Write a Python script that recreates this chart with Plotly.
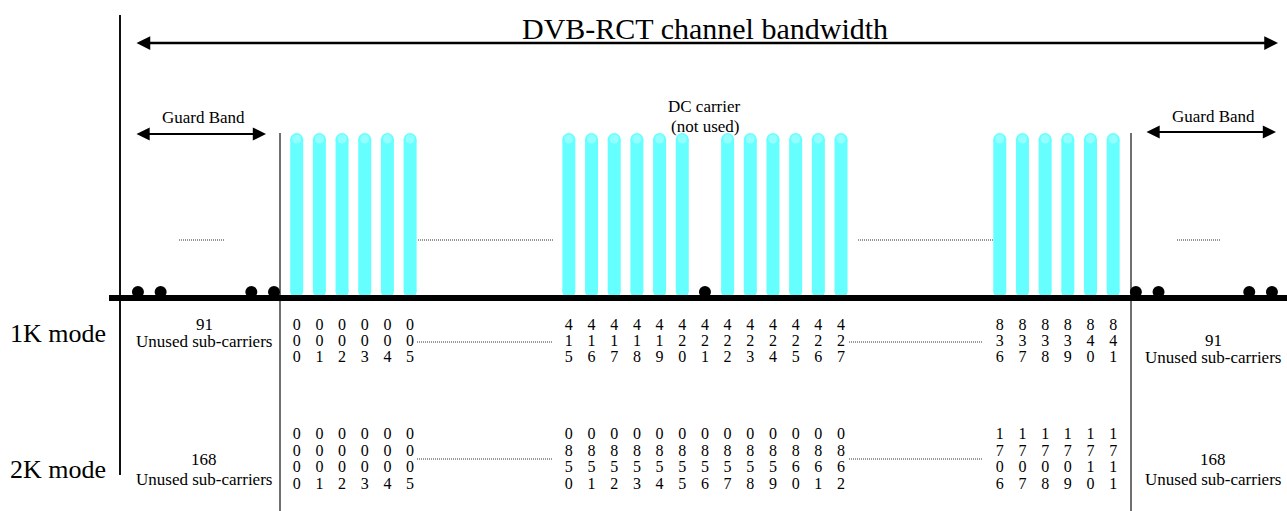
import plotly.graph_objects as go

# ---------------- data ----------------
carriers_1k_left = [0, 1, 2, 3, 4, 5]
carriers_1k_mid = [415, 416, 417, 418, 419, 420, 421, 422, 423, 424, 425, 426, 427]
carriers_1k_right = [836, 837, 838, 839, 840, 841]
carriers_2k_left = [0, 1, 2, 3, 4, 5]
carriers_2k_mid = [850, 851, 852, 853, 854, 855, 856, 857, 858, 859, 860, 861, 862]
carriers_2k_right = [1706, 1707, 1708, 1709, 1710, 1711]
unused_1k = 91
unused_2k = 168
dc_carrier_1k = 421
title_text = "DVB-RCT channel bandwidth"
guard_text = "Guard Band"
mode_labels = ["1K mode", "2K mode"]

# ---------------- layout (diagram slots) ----------------
W, H = 1287, 511
PX0, PITCH = 296.7, 22.68
def sx(px):
    return (px - PX0) / PITCH

SLOT_LEFT = [0, 1, 2, 3, 4, 5]
SLOT_MID = [12, 13, 14, 15, 16, 17, 18, 19, 20, 21, 22, 23, 24]
SLOT_RIGHT = [31, 32, 33, 34, 35, 36]
SLOT_GUARD_DOTS = [-7, -6, -2, -1, 37, 38, 42, 43]

FONT = "Liberation Serif, Times New Roman, serif"
CYAN = "#66FFFF"
HILITE = "#93FFFF"
SMALL = 17
DIGIT = 16

Y_BAR_TOP, Y_BAR_BOT = 133, 298
Y_BASE = 298
BAR_W = 13

fig = go.Figure()

def line(x, y, width, color="black", dash=None):
    fig.add_trace(go.Scatter(x=x, y=y, mode="lines",
                             line=dict(width=width, color=color, dash=dash),
                             hoverinfo="skip", showlegend=False))

# vertical separators
line([sx(120), sx(120)], [15, 475], 2, "#111")
line([sx(280), sx(280)], [133, 511], 1.3, "#222")
line([sx(1131), sx(1131)], [133, 511], 1.3, "#222")

# carrier bars
all_slots = SLOT_LEFT + SLOT_MID + SLOT_RIGHT
all_carriers = carriers_1k_left + carriers_1k_mid + carriers_1k_right
bar_slots = [s for s, c in zip(all_slots, all_carriers) if c != dc_carrier_1k]
dc_slot = [s for s, c in zip(all_slots, all_carriers) if c == dc_carrier_1k][0]

r = BAR_W / 2
bx, by = [], []
for s in bar_slots:
    bx += [s, s, None]
    by += [Y_BAR_TOP + r, Y_BAR_BOT - r, None]
fig.add_trace(go.Scatter(x=bx, y=by, mode="lines+markers",
                         line=dict(width=BAR_W, color=CYAN),
                         marker=dict(size=BAR_W, color=CYAN, line=dict(width=0)),
                         hoverinfo="skip", showlegend=False))
fig.add_trace(go.Scatter(x=bar_slots, y=[Y_BAR_TOP + 6] * len(bar_slots), mode="markers",
                         marker=dict(size=9, color=HILITE, line=dict(width=0)),
                         hoverinfo="skip", showlegend=False))

# baseline
line([sx(109), sx(W)], [Y_BASE, Y_BASE], 6, "black")

# unused / DC dots
fig.add_trace(go.Scatter(x=SLOT_GUARD_DOTS + [dc_slot], y=[292] * (len(SLOT_GUARD_DOTS) + 1),
                         mode="markers", marker=dict(size=12, color="black", line=dict(width=0)),
                         hoverinfo="skip", showlegend=False))

# dotted continuation lines
DOT = "1px,1px"
for a, b in [(179, 224), (418, 553), (858, 993), (1177, 1220)]:
    line([sx(a), sx(b)], [240, 240], 1, "#333", DOT)
for a, b in [(417, 553), (849, 983)]:
    line([sx(a), sx(b)], [342, 342], 1, "#333", DOT)
    line([sx(a), sx(b)], [459, 459], 1, "#333", DOT)

# carrier index digits
def digit_rows(slots, carriers, ndig, y0, dy, size=DIGIT):
    strs = [str(c).zfill(ndig) for c in carriers]
    for k in range(ndig):
        fig.add_trace(go.Scatter(x=slots, y=[y0 + k * dy] * len(slots), mode="text",
                                 text=[s[k] for s in strs], textposition="middle center",
                                 textfont=dict(family=FONT, size=size, color="black"),
                                 hoverinfo="skip", showlegend=False))

digit_rows(SLOT_LEFT, carriers_1k_left, 3, 326, 16)
digit_rows(SLOT_MID, carriers_1k_mid, 3, 326, 16)
digit_rows(SLOT_RIGHT, carriers_1k_right, 3, 326, 16)
digit_rows(SLOT_LEFT, carriers_2k_left, 4, 435, 16.5)
digit_rows(SLOT_MID, carriers_2k_mid, 4, 435, 16.5)
digit_rows(SLOT_RIGHT, carriers_2k_right, 4, 435, 16.5)

# arrows
def darrow(x0, x1, y, width, size):
    fig.add_annotation(x=sx(x1), y=y, ax=sx(x0), ay=y, xref="x", yref="y", axref="x", ayref="y",
                       text="", showarrow=True, arrowhead=2, startarrowhead=2, arrowside="end+start",
                       arrowwidth=width, arrowsize=size, startarrowsize=size, arrowcolor="black",
                       standoff=0, startstandoff=0)

darrow(135, 1278, 43, 2.5, 1.1)
darrow(135, 266, 134, 2.2, 1.2)
darrow(1145, 1276, 132, 2.2, 1.2)

def label(x, y, text, size, anchor="center"):
    fig.add_annotation(x=x, y=y, xref="x", yref="y", text=text, showarrow=False,
                       xanchor=anchor, yanchor="middle",
                       font=dict(family=FONT, size=size, color="black"))

label(dc_slot, 28, title_text, 30)
label(sx(203), 117, guard_text, SMALL)
label(sx(1213), 116, guard_text, SMALL)
label(dc_slot, 106, "DC carrier", SMALL)
label(dc_slot, 126, "(not used)", SMALL)

# unused sub-carrier labels
label(sx(204), 324, str(unused_1k), SMALL)
label(sx(204), 341, "Unused sub-carriers", SMALL)
label(sx(1213), 340, str(unused_1k), SMALL)
label(sx(1213), 357, "Unused sub-carriers", SMALL)
for xc in (sx(204), sx(1213)):
    label(xc, 459, str(unused_2k), SMALL)
    label(xc, 479, "Unused sub-carriers", SMALL)

label(sx(108), 333, mode_labels[0], 26, "right")
label(sx(108), 469, mode_labels[1], 26, "right")

fig.update_layout(
    width=W, height=H, margin=dict(l=0, r=0, t=0, b=0),
    paper_bgcolor="white", plot_bgcolor="white", showlegend=False,
    xaxis=dict(range=[sx(0), sx(W)], visible=False, fixedrange=True),
    yaxis=dict(range=[H, 0], visible=False, fixedrange=True),
)

fig.write_html("out.html", config={"displayModeBar": False},
               post_script="document.body.style.margin='0';document.body.style.overflow='hidden';")
